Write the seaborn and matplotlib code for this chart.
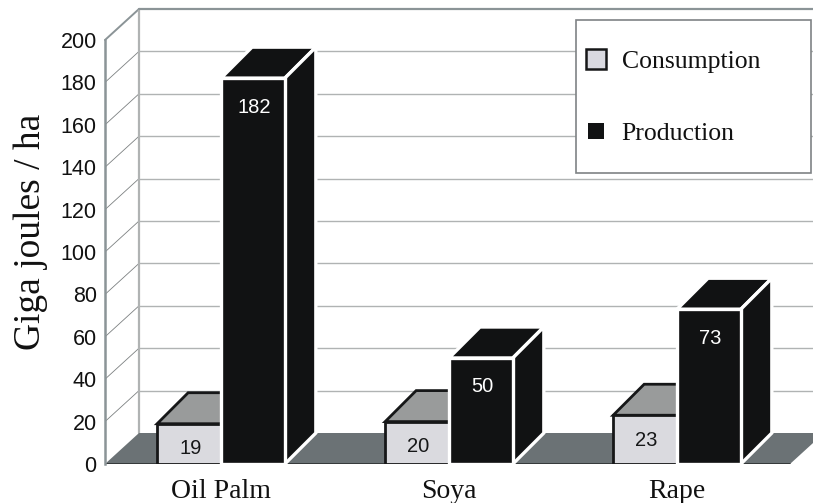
import matplotlib
matplotlib.use("Agg")
import matplotlib.pyplot as plt
from matplotlib.lines import Line2D
from matplotlib.patches import Polygon, Rectangle
import pandas as pd
import seaborn as sns

crops = ["Oil Palm", "Soya", "Rape"]
consumption = [19, 20, 23]
production = [182, 50, 73]
y_ticks = [0, 20, 40, 60, 80, 100, 120, 140, 160, 180, 200]
series_names = ["Consumption", "Production"]

W, H = 813, 503
LEFT, RIGHT, BOTTOM, TOP = 105, 813, 464, 8
PX_PER_CAT = 228
PX_PER_UNIT = 2.12
CAT0_PX = 221
DEPTH_X = 34 / PX_PER_CAT
BAR_DEPTH_X = 31 / PX_PER_CAT
DEPTH_Y = 31 / PX_PER_UNIT

FRONT_LIGHT = "#d9d9e0"
TOP_GREY = "#999b9b"
NEAR_BLACK = "#111213"
FLOOR = "#6b7275"
WALL = "#8b9497"
GRID = "#b0b3b3"

sns.set_theme(style="white")
plt.rcParams["font.family"] = ["Liberation Sans", "DejaVu Sans"]
SERIF = "Liberation Serif"

df = pd.DataFrame({
    "crop": crops * 2,
    "value": consumption + production,
    "series": [series_names[0]] * 3 + [series_names[1]] * 3,
})

fig = plt.figure(figsize=(W / 100, H / 100), dpi=100, facecolor="white")
ax = fig.add_axes([LEFT / W, (H - BOTTOM) / H, (RIGHT - LEFT) / W, (BOTTOM - TOP) / H])
sns.barplot(data=df, x="crop", y="value", hue="series", order=crops,
            palette=[FRONT_LIGHT, NEAR_BLACK], width=0.56, legend=False, ax=ax)

x_lo = (LEFT - CAT0_PX) / PX_PER_CAT
x_hi = (RIGHT - CAT0_PX) / PX_PER_CAT
y_hi = (BOTTOM - TOP) / PX_PER_UNIT
ax.set_xlim(x_lo, x_hi)
ax.set_ylim(0, y_hi)
ax.patch.set_alpha(0)

# Floor, back wall and side wall of the 3D box
floor_right = (790 - CAT0_PX) / PX_PER_CAT
ax.add_patch(Polygon([(x_lo, 0), (x_lo + DEPTH_X, DEPTH_Y),
                      (floor_right + DEPTH_X, DEPTH_Y), (floor_right, 0)],
                     closed=True, facecolor=FLOOR, edgecolor="none", zorder=1.5))
ax.plot([x_lo, floor_right], [0, 0], color="#2c2f30", lw=1.2, zorder=1.6)
for tick in y_ticks[1:-1]:
    ax.plot([x_lo + DEPTH_X, x_hi], [tick + DEPTH_Y] * 2, color=GRID, lw=1.0, zorder=1)
    ax.plot([x_lo, x_lo + DEPTH_X], [tick, tick + DEPTH_Y], color="#7c8081", lw=0.6, zorder=1)
ax.plot([x_lo, x_lo + DEPTH_X], [y_ticks[-1], y_ticks[-1] + DEPTH_Y],
        color=WALL, lw=1.4, zorder=1.2, clip_on=False)
ax.plot([x_lo + DEPTH_X, x_lo + DEPTH_X], [0 + DEPTH_Y, y_ticks[-1] + DEPTH_Y],
        color=GRID, lw=1.6, zorder=1.2, clip_on=False)
ax.plot([x_lo + DEPTH_X, x_hi], [y_ticks[-1] + DEPTH_Y] * 2,
        color=WALL, lw=1.6, zorder=1.2, clip_on=False)


def extrude(bar, edge, top_color, side_color, lw, base_z):
    """Add the top and right faces that give a flat bar its depth."""
    x0, x1 = bar.get_x(), bar.get_x() + bar.get_width()
    h = bar.get_height()
    ax.add_patch(Polygon([(x0, h), (x1, h), (x1 + BAR_DEPTH_X, h + DEPTH_Y), (x0 + BAR_DEPTH_X, h + DEPTH_Y)],
                         closed=True, facecolor=top_color, edgecolor=edge, lw=lw,
                         joinstyle="miter", zorder=base_z))
    ax.add_patch(Polygon([(x1, 0), (x1 + BAR_DEPTH_X, DEPTH_Y), (x1 + BAR_DEPTH_X, h + DEPTH_Y), (x1, h)],
                         closed=True, facecolor=side_color, edgecolor=edge, lw=lw,
                         joinstyle="miter", zorder=base_z))
    bar.set_edgecolor(edge)
    bar.set_linewidth(lw)
    bar.set_joinstyle("miter")
    bar.set_zorder(base_z + 0.1)


for bar in ax.containers[0]:
    extrude(bar, "#161718", TOP_GREY, TOP_GREY, 2.0, 3)
for bar in ax.containers[1]:
    extrude(bar, "white", NEAR_BLACK, NEAR_BLACK, 2.4, 4)

# Value labels sit just under the front top edge of each bar
for container, color, drop in [(ax.containers[0], "#161718", 25), (ax.containers[1], "white", 29)]:
    for bar in container:
        ax.annotate(f"{bar.get_height():.0f}",
                    (bar.get_x() + bar.get_width() / 2, bar.get_height()),
                    xytext=(1, -drop * 0.72), textcoords="offset points",
                    ha="center", va="center", fontsize=14.5, color=color, zorder=6)

for side in ["top", "right", "bottom"]:
    ax.spines[side].set_visible(False)
ax.spines["left"].set_bounds(0, y_ticks[-1])
ax.spines["left"].set_color(WALL)
ax.spines["left"].set_linewidth(1.8)

ax.set_yticks(y_ticks)
ax.set_xticks(range(len(crops)))
ax.set_xticklabels(crops, fontsize=20, family=SERIF, color="#111111")
ax.tick_params(axis="x", length=0, pad=11)
ax.tick_params(axis="y", length=0, pad=6, labelsize=15.5, labelcolor="#111111")
ax.set_xlabel("")
ax.set_ylabel("")
fig.text(31 / W, 1 - 232 / H, "Giga joules / ha", rotation=90, ha="center", va="center",
         fontsize=27, family=SERIF, color="#111111")

# Legend box with its two keys
ax.add_patch(Rectangle((576 / W, 1 - 173 / H), 235 / W, 153 / H, transform=fig.transFigure,
                       facecolor="white", edgecolor="#7f8385", lw=1.2, zorder=7, clip_on=False))
handles = [
    Line2D([], [], ls="none", marker="s", markersize=14.5, markerfacecolor=FRONT_LIGHT,
           markeredgecolor="#161718", markeredgewidth=1.8),
    Line2D([], [], ls="none", marker="s", markersize=11.5, markerfacecolor=NEAR_BLACK,
           markeredgecolor=NEAR_BLACK, markeredgewidth=0),
]
legend = ax.legend(handles, series_names, loc="upper left",
                   bbox_to_anchor=(574 / W, 1 - 45 / H), bbox_transform=fig.transFigure,
                   frameon=False, prop={"family": SERIF, "size": 18.5},
                   labelspacing=1.9, handlelength=1.3, handletextpad=0.35,
                   borderpad=0.2, borderaxespad=0)
legend.set_zorder(8)
for text in legend.get_texts():
    text.set_color("#111111")

fig.savefig("out.png", dpi=100, facecolor="white")
